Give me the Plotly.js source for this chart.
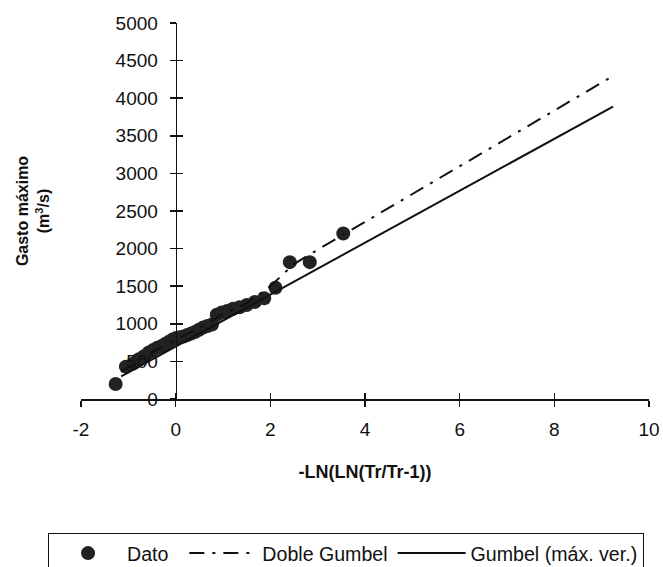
<!DOCTYPE html>
<html>
<head>
<meta charset="utf-8">
<script src="https://cdn.plot.ly/plotly-3.0.1.min.js"></script>
<style>html,body{margin:0;padding:0;background:#fff;}#chart{width:663px;height:567px;}</style>
</head>
<body>
<div id="chart"></div>
<script>
// Observed data: reduced variable -LN(LN(Tr/(Tr-1))) and annual maximum discharge (m3/s)
var datoX = [-1.268, -1.052, -0.899, -0.774, -0.666, -0.567, -0.476, -0.389, -0.306, -0.225,
             -0.146, -0.068, 0.010, 0.087, 0.166, 0.245, 0.326, 0.408, 0.493, 0.581,
             0.672, 0.767, 0.868, 0.975, 1.089, 1.213, 1.349, 1.500, 1.671, 1.870,
             2.109, 2.412, 2.833, 3.541];
var datoY = [200, 430, 470, 530, 570, 620, 650, 680, 700, 730,
             760, 790, 810, 820, 830, 850, 870, 890, 920, 950,
             970, 990, 1120, 1150, 1170, 1200, 1220, 1250, 1290, 1340,
             1480, 1820, 1820, 2200];

// Doble Gumbel fitted curve
var dobleX = [-1.15, -0.5, 0.0, 0.5, 1.0, 1.5, 2.0, 2.5, 3.0, 4.0, 6.0, 9.24];
var dobleY = [360, 620, 790, 940, 1130, 1270, 1500, 1795, 1985, 2355, 3095, 4295];

// Gumbel (máx. ver.) fitted line
var gumbelX = [-1.15, 9.24];
var gumbelY = [300, 3888];

var xTicks = [-2, 0, 2, 4, 6, 8, 10];
var yTicks = [0, 500, 1000, 1500, 2000, 2500, 3000, 3500, 4000, 4500, 5000];

var NB = '\u00a0';
function pad(s, n) { return s + new Array(n + 1).join(NB); }

var fontFam = 'Liberation Sans, Arial, sans-serif';
var ink = '#111';

var traces = [
  {x: datoX, y: datoY, name: pad('Dato', 2), type: 'scatter', mode: 'markers',
   marker: {size: 14, color: '#222'}},
  {x: dobleX, y: dobleY, name: 'Doble Gumbel', type: 'scatter', mode: 'lines',
   line: {color: ink, width: 2, dash: '15px,8px,3px,8px'}},
  {x: gumbelX, y: gumbelY, name: 'Gumbel (máx. ver.)', type: 'scatter', mode: 'lines',
   line: {color: ink, width: 2}},
  {x: [], y: [], xaxis: 'x2', yaxis: 'y2', type: 'scatter', mode: 'markers',
   showlegend: false, hoverinfo: 'skip'}
];

var layout = {
  width: 663, height: 567,
  margin: {l: 81, r: 14, t: 23, b: 168, autoexpand: false},
  paper_bgcolor: '#fff', plot_bgcolor: '#fff',
  font: {family: fontFam, size: 19, color: ink},
  showlegend: true,
  xaxis: {
    range: [-2, 10], tickvals: xTicks, ticktext: xTicks.map(String),
    showline: true, linecolor: ink, linewidth: 1.5,
    ticks: 'outside', ticklen: 6, tickcolor: ink, tickwidth: 1.5,
    ticklabelstandoff: 7, automargin: false,
    showgrid: false, zeroline: false,
    tickfont: {size: 19},
    title: {text: '-LN(LN(Tr/Tr-1))', font: {size: 18, weight: 'bold'}, standoff: 26}
  },
  yaxis: {
    range: [0, 5000], tickvals: yTicks, ticktext: yTicks.map(String),
    anchor: 'free', position: 1/6, automargin: false,
    showline: true, linecolor: ink, linewidth: 1.5,
    ticks: 'outside', ticklen: 6, tickcolor: ink, tickwidth: 1.5,
    ticklabelstandoff: 8,
    showgrid: false, zeroline: false,
    tickfont: {size: 19},
    title: {text: 'Gasto máximo<br>(m<sup>3</sup>/s)', font: {size: 16, weight: 'bold'}, standoff: 60}
  },
  xaxis2: {
    overlaying: 'x', anchor: 'y2', range: [-2, 10], tickvals: xTicks,
    ticks: 'inside', ticklen: 6, tickcolor: ink, tickwidth: 1.5, automargin: false,
    showticklabels: false, showline: false, showgrid: false, zeroline: false
  },
  yaxis2: {
    overlaying: 'y', anchor: 'free', position: 1/6, side: 'left', range: [0, 5000], tickvals: yTicks,
    ticks: 'inside', ticklen: 6, tickcolor: ink, tickwidth: 1.5, automargin: false,
    showticklabels: false, showline: false, showgrid: false, zeroline: false
  },
  legend: {
    orientation: 'h', x: -0.058, xanchor: 'left', y: -0.356, yanchor: 'top',
    bgcolor: '#fff', bordercolor: ink, borderwidth: 1,
    itemwidth: 68,
    font: {size: 19.6}
  }
};

Plotly.newPlot('chart', traces, layout, {staticPlot: true, displayModeBar: false});
</script>
</body>
</html>
